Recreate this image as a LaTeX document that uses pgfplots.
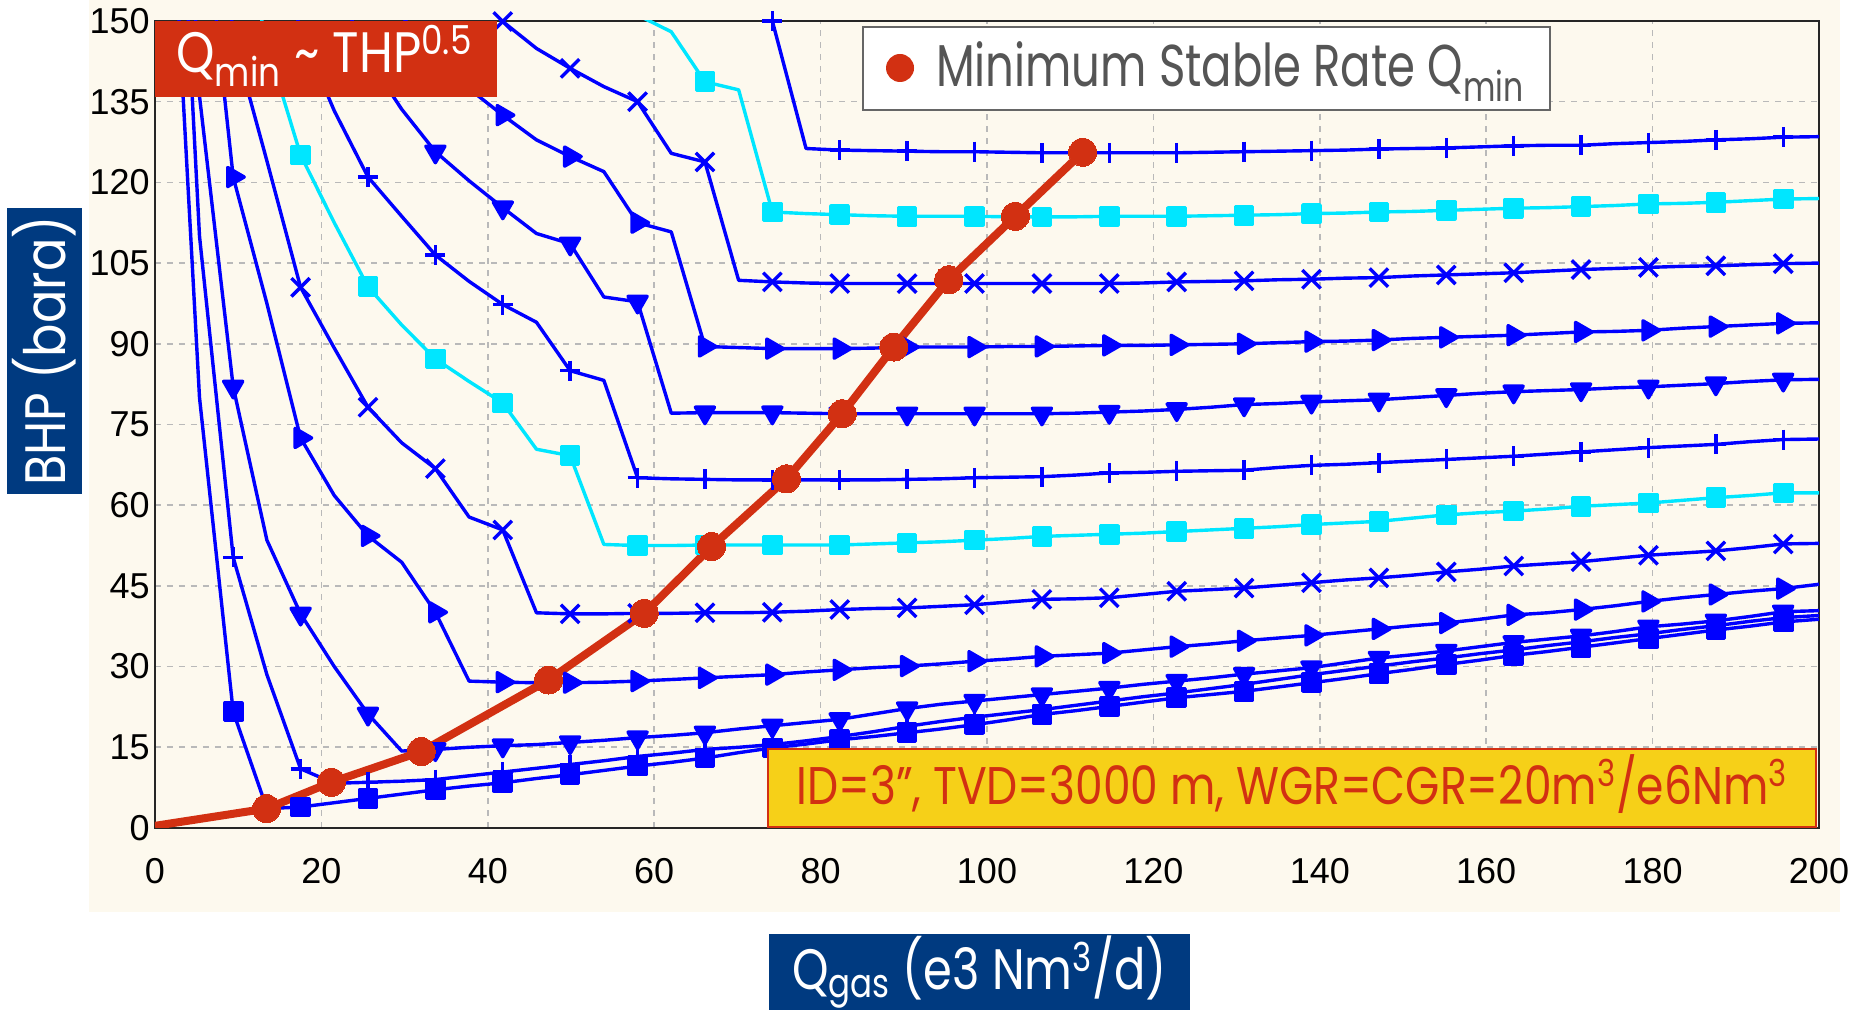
\documentclass[border=0pt]{standalone}
\usepackage{pgfplots}
\usepackage{pgfplotstable}
\pgfplotsset{compat=1.18}
\usepackage{fontspec}
\setmainfont{Liberation Sans}
\newfontfamily\fut{Poppins}
\definecolor{cream}{RGB}{253,249,238}
\definecolor{qred}{RGB}{210,48,18}
\definecolor{navy}{RGB}{0,58,128}
\definecolor{ccyan}{RGB}{0,230,255}
\definecolor{cblue}{RGB}{0,0,255}
\definecolor{gold}{RGB}{246,208,24}
\definecolor{lgray}{RGB}{85,85,85}
\definecolor{gridgray}{RGB}{185,185,185}

\pgfplotstableread{
x y
1.3 195
5.35 80
9.4 21.6
13.45 3.6
17.5 3.9
21.55 4.7
25.6 5.5
29.65 6.3
33.7 7.1
37.75 7.8
41.8 8.4
45.85 9.2
49.9 9.9
53.95 10.7
58.0 11.5
62.05 12.2
66.1 13.0
70.15 14.0
74.2 14.9
78.25 15.6
82.3 16.4
86.35 17.0
90.4 17.7
94.45 18.4
98.5 19.2
102.55 20.1
106.6 21.1
110.65 21.8
114.7 22.6
118.75 23.4
122.8 24.2
126.85 24.8
130.9 25.4
134.95 26.2
139.0 27.0
143.05 27.8
147.1 28.7
151.15 29.5
155.2 30.4
159.25 31.2
163.3 32.1
167.35 32.8
171.4 33.6
175.45 34.4
179.5 35.2
183.55 36.0
187.6 36.8
191.65 37.5
195.7 38.3
200 38.8
}\Cone

\pgfplotstableread{
x y
1.3 230
5.35 110
9.4 50.3
13.45 28.5
17.5 11.0
21.55 8.3
25.6 8.5
29.65 8.7
33.7 9.0
37.75 9.7
41.8 10.4
45.85 11.1
49.9 11.8
53.95 12.5
58.0 13.3
62.05 13.9
66.1 14.6
70.15 15.0
74.2 15.5
78.25 16.2
82.3 17.0
86.35 17.9
90.4 18.9
94.45 19.8
98.5 20.6
102.55 21.3
106.6 22.0
110.65 22.8
114.7 23.6
118.75 24.4
122.8 25.1
126.85 25.9
130.9 26.7
134.95 27.6
139.0 28.5
143.05 29.3
147.1 30.1
151.15 30.9
155.2 31.6
159.25 32.4
163.3 33.1
167.35 33.9
171.4 34.6
175.45 35.4
179.5 36.1
183.55 36.9
187.6 37.6
191.65 38.4
195.7 39.1
200 39.5
}\Ctwo

\pgfplotstableread{
x y
1.3 260
5.35 136
9.4 82
13.45 53.5
17.5 39.8
21.55 30.0
25.6 21.2
29.65 14.3
33.7 14.6
37.75 15.0
41.8 15.3
45.85 15.5
49.9 15.9
53.95 16.3
58.0 16.8
62.05 17.2
66.1 17.7
70.15 18.4
74.2 19.0
78.25 19.6
82.3 20.2
86.35 21.2
90.4 22.2
94.45 23.0
98.5 23.6
102.55 24.2
106.6 24.8
110.65 25.4
114.7 26.0
118.75 26.7
122.8 27.3
126.85 27.9
130.9 28.6
134.95 29.2
139.0 29.8
143.05 30.7
147.1 31.6
151.15 32.2
155.2 32.9
159.25 33.7
163.3 34.5
167.35 35.1
171.4 35.7
175.45 36.5
179.5 37.4
183.55 37.9
187.6 38.5
191.65 39.3
195.7 40.2
200 40.4
}\Cthree

\pgfplotstableread{
x y
5.35 179
9.4 121
13.45 97.5
17.5 72.5
21.55 61.8
25.6 54.3
29.65 49.4
33.7 40.1
37.75 27.3
41.8 27.1
45.85 27.0
49.9 27.0
53.95 27.1
58.0 27.3
62.05 27.6
66.1 27.9
70.15 28.2
74.2 28.5
78.25 29.0
82.3 29.4
86.35 29.8
90.4 30.1
94.45 30.5
98.5 31.0
102.55 31.4
106.6 31.9
110.65 32.2
114.7 32.5
118.75 33.1
122.8 33.7
126.85 34.2
130.9 34.8
134.95 35.3
139.0 35.8
143.05 36.4
147.1 37.0
151.15 37.6
155.2 38.1
159.25 38.8
163.3 39.6
167.35 40.0
171.4 40.6
175.45 41.3
179.5 42.1
183.55 42.8
187.6 43.4
191.65 44.0
195.7 44.5
200 45.3
}\Cfour

\pgfplotstableread{
x y
5.35 220
9.4 147
13.45 124
17.5 100.5
21.55 89.2
25.6 78.2
29.65 71.6
33.7 66.8
37.75 57.8
41.8 55.4
45.85 40.0
49.9 39.8
53.95 39.8
58.0 39.9
62.05 39.9
66.1 40.0
70.15 40.0
74.2 40.1
78.25 40.3
82.3 40.6
86.35 40.8
90.4 40.9
94.45 41.2
98.5 41.5
102.55 42.0
106.6 42.5
110.65 42.6
114.7 42.8
118.75 43.4
122.8 44.0
126.85 44.3
130.9 44.6
134.95 45.1
139.0 45.6
143.05 46.1
147.1 46.5
151.15 47.0
155.2 47.6
159.25 48.1
163.3 48.7
167.35 49.1
171.4 49.5
175.45 50.1
179.5 50.7
183.55 51.1
187.6 51.5
191.65 52.1
195.7 52.8
200 52.9
}\Cfive

\pgfplotstableread{
x y
9.4 175
13.45 145.7
17.5 125.1
21.55 112.5
25.6 100.6
29.65 93.5
33.7 87.2
37.75 83.0
41.8 79.0
45.85 70.4
49.9 69.2
53.95 52.7
58.0 52.5
62.05 52.5
66.1 52.6
70.15 52.6
74.2 52.6
78.25 52.6
82.3 52.6
86.35 52.8
90.4 53.0
94.45 53.2
98.5 53.5
102.55 53.8
106.6 54.2
110.65 54.4
114.7 54.6
118.75 54.8
122.8 55.1
126.85 55.4
130.9 55.7
134.95 56.0
139.0 56.4
143.05 56.7
147.1 57.0
151.15 57.6
155.2 58.2
159.25 58.6
163.3 58.9
167.35 59.3
171.4 59.8
175.45 60.1
179.5 60.4
183.55 60.9
187.6 61.4
191.65 61.8
195.7 62.3
200 62.3
}\Csix

\pgfplotstableread{
x y
13.45 175
17.5 148
21.55 133.3
25.6 121.0
29.65 113.7
33.7 106.5
37.75 101.6
41.8 97.3
45.85 94.0
49.9 85.0
53.95 83.2
58.0 65.1
62.05 64.9
66.1 64.8
70.15 64.7
74.2 64.7
78.25 64.7
82.3 64.7
86.35 64.7
90.4 64.8
94.45 64.9
98.5 65.1
102.55 65.2
106.6 65.3
110.65 65.6
114.7 66.0
118.75 66.1
122.8 66.3
126.85 66.4
130.9 66.5
134.95 67.0
139.0 67.4
143.05 67.6
147.1 67.9
151.15 68.2
155.2 68.5
159.25 68.8
163.3 69.1
167.35 69.5
171.4 69.9
175.45 70.3
179.5 70.7
183.55 71.0
187.6 71.3
191.65 71.8
195.7 72.2
200 72.3
}\Cseven

\pgfplotstableread{
x y
21.55 158
25.6 143
29.65 133.6
33.7 125.7
37.75 120.3
41.8 115.3
45.85 110.5
49.9 108.6
53.95 98.7
58.0 97.8
62.05 77.1
66.1 77.2
70.15 77.2
74.2 77.2
78.25 77.1
82.3 77.0
86.35 77.0
90.4 77.0
94.45 77.0
98.5 77.0
102.55 77.0
106.6 77.0
110.65 77.1
114.7 77.3
118.75 77.5
122.8 77.8
126.85 78.2
130.9 78.7
134.95 78.9
139.0 79.2
143.05 79.4
147.1 79.6
151.15 80.0
155.2 80.4
159.25 80.8
163.3 81.1
167.35 81.3
171.4 81.5
175.45 81.8
179.5 82.0
183.55 82.3
187.6 82.6
191.65 83.0
195.7 83.3
200 83.4
}\Ceight

\pgfplotstableread{
x y
29.65 151
33.7 143
37.75 137.4
41.8 132.5
45.85 127.9
49.9 124.8
53.95 122.0
58.0 112.5
62.05 110.8
66.1 89.5
70.15 89.3
74.2 89.1
78.25 89.1
82.3 89.1
86.35 89.2
90.4 89.4
94.45 89.4
98.5 89.4
102.55 89.5
106.6 89.5
110.65 89.6
114.7 89.7
118.75 89.7
122.8 89.8
126.85 89.9
130.9 90.0
134.95 90.2
139.0 90.4
143.05 90.5
147.1 90.7
151.15 91.0
155.2 91.2
159.25 91.4
163.3 91.6
167.35 91.9
171.4 92.2
175.45 92.3
179.5 92.5
183.55 92.9
187.6 93.2
191.65 93.5
195.7 93.8
200 93.9
}\Cnine

\pgfplotstableread{
x y
37.75 155
41.8 149.9
45.85 144.9
49.9 141.2
53.95 137.8
58.0 135.0
62.05 125.4
66.1 123.8
70.15 101.8
74.2 101.5
78.25 101.3
82.3 101.2
86.35 101.2
90.4 101.2
94.45 101.2
98.5 101.2
102.55 101.2
106.6 101.2
110.65 101.2
114.7 101.2
118.75 101.3
122.8 101.5
126.85 101.6
130.9 101.7
134.95 101.9
139.0 102.0
143.05 102.2
147.1 102.3
151.15 102.6
155.2 102.8
159.25 103.0
163.3 103.2
167.35 103.5
171.4 103.8
175.45 104.0
179.5 104.2
183.55 104.4
187.6 104.5
191.65 104.7
195.7 104.9
200 105.0
}\Cten

\pgfplotstableread{
x y
53.95 160
58.0 151.1
62.05 148
66.1 138.7
70.15 137.2
74.2 114.5
78.25 114.2
82.3 114.0
86.35 113.8
90.4 113.7
94.45 113.7
98.5 113.7
102.55 113.6
106.6 113.6
110.65 113.6
114.7 113.7
118.75 113.7
122.8 113.7
126.85 113.8
130.9 113.9
134.95 114.0
139.0 114.2
143.05 114.3
147.1 114.5
151.15 114.6
155.2 114.8
159.25 115.0
163.3 115.2
167.35 115.3
171.4 115.5
175.45 115.7
179.5 116.0
183.55 116.1
187.6 116.3
191.65 116.6
195.7 116.9
200 117.0
}\Celeven

\pgfplotstableread{
x y
70.15 170
74.2 150
78.25 126.3
82.3 126.0
86.35 125.9
90.4 125.8
94.45 125.7
98.5 125.7
102.55 125.6
106.6 125.5
110.65 125.5
114.7 125.5
118.75 125.5
122.8 125.5
126.85 125.6
130.9 125.7
134.95 125.8
139.0 125.9
143.05 126.0
147.1 126.2
151.15 126.3
155.2 126.4
159.25 126.6
163.3 126.8
167.35 126.9
171.4 126.9
175.45 127.2
179.5 127.4
183.55 127.6
187.6 127.9
191.65 128.1
195.7 128.4
200 128.5
}\Ctwelve

\pgfplotstableread{
x y
0 0.4
13.4 3.6
21.2 8.5
32.0 14.2
47.3 27.5
58.8 39.9
66.9 52.3
75.9 64.9
82.6 77.0
88.8 89.4
95.4 101.9
103.4 113.7
111.5 125.6
}\Qmin

\begin{document}
\begin{tikzpicture}
\useasboundingbox (0,0) rectangle (929pt,505pt);
\fill[cream] (44.5pt,49pt) rectangle (920pt,505pt);
\begin{axis}[
  at={(77.5pt,91pt)}, anchor=south west,
  width=832pt, height=403.5pt, scale only axis,
  xmin=0, xmax=200, ymin=0, ymax=150,
  xtick={0,20,...,200}, ytick={0,15,...,150},
  major tick length=0pt,
  /pgf/number format/assume math mode=true,
  tick label style={font=\fontsize{18}{18}\selectfont, inner sep=0pt},
  x tick label style={yshift=-15pt},
  y tick label style={xshift=-2.5pt},
  grid=major,
  major grid style={gridgray, dash pattern=on 3pt off 3pt, line width=0.8pt},
  axis line style={line width=1.2pt, black!85},
  xlabel={\resizebox{187.5pt}{\height}{Q\textsubscript{gas} (e3 Nm\textsuperscript{3}/d)}},
  xlabel style={at={(axis description cs:0.4955,-0.17844)}, anchor=center, fill=navy, text=white, font=\fut\fontsize{28.5}{28.5}\selectfont, minimum width=210.5pt, minimum height=38pt, inner sep=0pt},
  ylabel={\resizebox{135pt}{\height}{BHP (bara)}},
  ylabel style={at={(axis description cs:-0.06641,0.5911)}, anchor=center, fill=navy, text=white, font=\fut\fontsize{28.5}{28.5}\selectfont, minimum width=143pt, minimum height=37.5pt, inner sep=0pt},
  legend style={at={(rel axis cs:0.4249,0.9938)}, anchor=north west, draw=black!60, line width=1pt, fill=white, inner sep=0pt, column sep=0pt, row sep=0pt, nodes={inner sep=0pt, text height=30pt, text depth=11.5pt}, font=\fut\fontsize{29.5}{29.5}\selectfont, text=lgray},
  legend cell align=left,
  legend image code/.code={},
  every axis plot/.append style={line width=1.7pt, mark repeat=2, line join=round},
]
\addplot[forget plot, cblue, mark=square*, mark phase=2, mark size=4.3pt] table {\Cone};
\addplot[forget plot, cblue, mark=+, mark phase=2, mark size=5pt] table {\Ctwo};
\addplot[forget plot, cblue, mark=triangle*, mark phase=2, mark size=5.5pt, mark options={rotate=180}] table {\Cthree};
\addplot[forget plot, cblue, mark=triangle*, mark phase=1, mark size=5.5pt, mark options={rotate=-90}] table {\Cfour};
\addplot[forget plot, cblue, mark=x, mark phase=1, mark size=6.5pt] table {\Cfive};
\addplot[forget plot, ccyan, mark=square*, mark phase=2, mark size=4.3pt] table {\Csix};
\addplot[forget plot, cblue, mark=+, mark phase=1, mark size=5pt] table {\Cseven};
\addplot[forget plot, cblue, mark=triangle*, mark phase=1, mark size=5.5pt, mark options={rotate=180}] table {\Ceight};
\addplot[forget plot, cblue, mark=triangle*, mark phase=1, mark size=5.5pt, mark options={rotate=-90}] table {\Cnine};
\addplot[forget plot, cblue, mark=x, mark phase=1, mark size=6.5pt] table {\Cten};
\addplot[forget plot, ccyan, mark=square*, mark phase=2, mark size=4.3pt] table {\Celeven};
\addplot[forget plot, cblue, mark=+, mark phase=1, mark size=5pt] table {\Ctwelve};
\addplot[qred, line width=4pt, mark=*, mark repeat=1, mark indices={2,3,4,5,6,7,8,9,10,11,12,13}, mark size=7pt, mark options={fill=qred, draw=qred, line width=0pt}] table {\Qmin};
\addlegendentry{\raisebox{0pt}[30pt][11.5pt]{\hspace*{11.5pt}\tikz[baseline=0pt]\fill[qred] (7pt,9.5pt) circle (7pt);\hspace*{11pt}\resizebox{294pt}{\height}{Minimum Stable Rate Q\textsubscript{min}}\hspace*{13pt}}}
\coordinate (TL) at (rel axis cs:0,1);
\coordinate (BL) at (rel axis cs:0,0);
\coordinate (BR) at (rel axis cs:0.9988,0);
\end{axis}
\node[fill=qred, anchor=north west, minimum width=171pt, minimum height=38pt, inner sep=0pt] at (TL) {};
\node[anchor=base west, inner sep=0pt, text=white, font=\fut\fontsize{28.5}{28.5}\selectfont, xshift=10.5pt, yshift=-26pt] at (TL) {\resizebox{148pt}{\height}{Q\textsubscript{min} \textasciitilde{} THP\textsuperscript{0.5}}};
\node[fill=gold, draw=qred, line width=0.8pt, anchor=south east, minimum width=524pt, minimum height=39pt, inner sep=0pt] at (BR) {};
\node[anchor=base west, inner sep=0pt, text=qred, font=\fut\fontsize{26.5}{26.5}\selectfont, xshift=320.5pt, yshift=11.5pt] at (BL) {\resizebox{495.5pt}{\height}{ID=3”, TVD=3000 m, WGR=CGR=20m\textsuperscript{3}/e6Nm\textsuperscript{3}}};
\end{tikzpicture}
\end{document}
